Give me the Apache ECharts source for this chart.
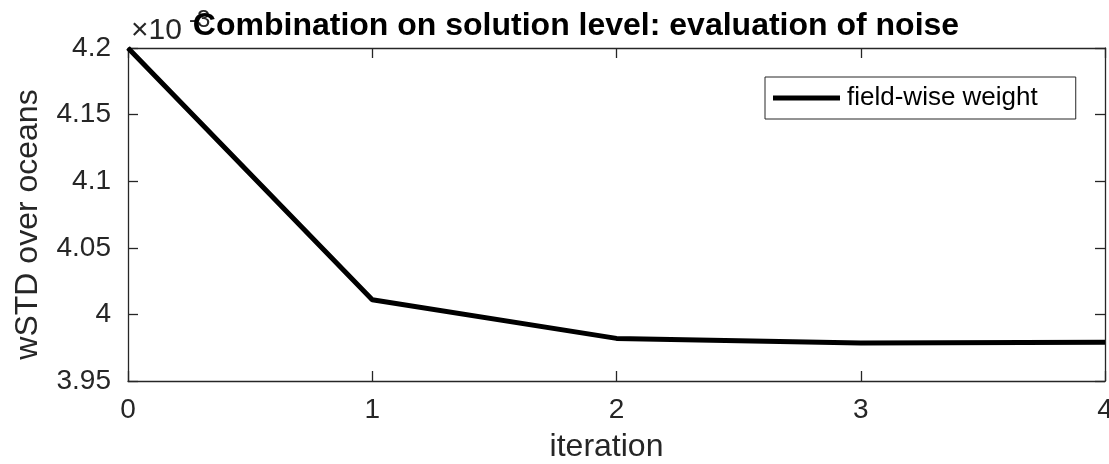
<!DOCTYPE html>
<html><head><meta charset="utf-8">
<script src="https://cdn.jsdelivr.net/npm/echarts@6/dist/echarts.min.js"></script>
<style>html,body{margin:0;padding:0;background:#fff}#c{width:1109px;height:464px}</style>
</head><body><div id="c"></div>
<script>
const iterations = [0, 1, 2, 3, 4];
const wstd = [4.2, 4.011, 3.982, 3.9785, 3.979]; // ×10^-3
const seriesName = 'field-wise weight';
const titleText = 'Combination on solution level: evaluation of noise';
const xName = 'iteration';
const yName = 'wSTD over oceans';
const expBase = '×10';
const expPow = '-3';

const F = 'Liberation Sans, Arial, Helvetica, sans-serif';
const C = '#262626';
const chart = echarts.init(document.getElementById('c'));
const axisLine = {show: true, onZero: false, lineStyle: {color: C, width: 1.3}};
const tick = {show: true, inside: true, length: 10, lineStyle: {color: C, width: 1.3}};
chart.setOption({
  animation: false,
  backgroundColor: '#fff',
  title: {text: titleText, left: 571, textAlign: 'center', top: 5, z: 10,
    textStyle: {fontFamily: F, fontWeight: 'bold', fontSize: 32, color: '#000'}},
  graphic: [
    {type: 'text', left: 131, top: 16, z: 0,
      style: {text: expBase, fontFamily: F, fontSize: 30, fill: C}},
    {type: 'text', left: 189, top: 8, z: 0,
      style: {text: expPow, fontFamily: F, fontSize: 24, fill: C}}
  ],
  legend: {left: 765, top: 77, orient: 'horizontal', padding: [8, 38, 8, 8],
    borderColor: C, borderWidth: 1, backgroundColor: '#fff',
    icon: 'rect', itemWidth: 67, itemHeight: 5, itemGap: 10,
    textStyle: {fontFamily: F, fontSize: 26, color: '#000', padding: [0, 0, 0, 2]},
    data: [seriesName]},
  grid: {left: 128, right: 4, top: 48, bottom: 83, containLabel: false, outerBoundsMode: 'none'},
  xAxis: [{type: 'value', min: 0, max: 4, interval: 1, name: xName,
    nameLocation: 'middle', nameGap: 50,
    nameTextStyle: {fontFamily: F, fontSize: 32, color: C, padding: [0, 20, 0, 0]},
    axisLine, axisTick: tick, splitLine: {show: false},
    axisLabel: {fontFamily: F, fontSize: 28, color: C, margin: 15}},
    {type: 'value', min: 0, max: 4, interval: 1, position: 'top',
    axisLine, axisTick: tick, splitLine: {show: false}, axisLabel: {show: false}}],
  yAxis: [{type: 'value', min: 3.95, max: 4.2, interval: 0.05, name: yName,
    nameLocation: 'middle', nameGap: 84,
    nameTextStyle: {fontFamily: F, fontSize: 32, color: C, padding: [0, 20, 0, 0]},
    axisLine, axisTick: tick, splitLine: {show: false},
    axisLabel: {fontFamily: F, fontSize: 28, color: C, margin: 17,
      formatter: v => String(+v.toFixed(2))}},
    {type: 'value', min: 3.95, max: 4.2, interval: 0.05, position: 'right',
    axisLine, axisTick: tick, splitLine: {show: false}, axisLabel: {show: false}}],
  series: [{name: seriesName, type: 'line', symbol: 'none',
    data: iterations.map((x, i) => [x, wstd[i]]),
    itemStyle: {color: '#000'},
    lineStyle: {color: '#000', width: 5}}]
});
</script></body></html>
